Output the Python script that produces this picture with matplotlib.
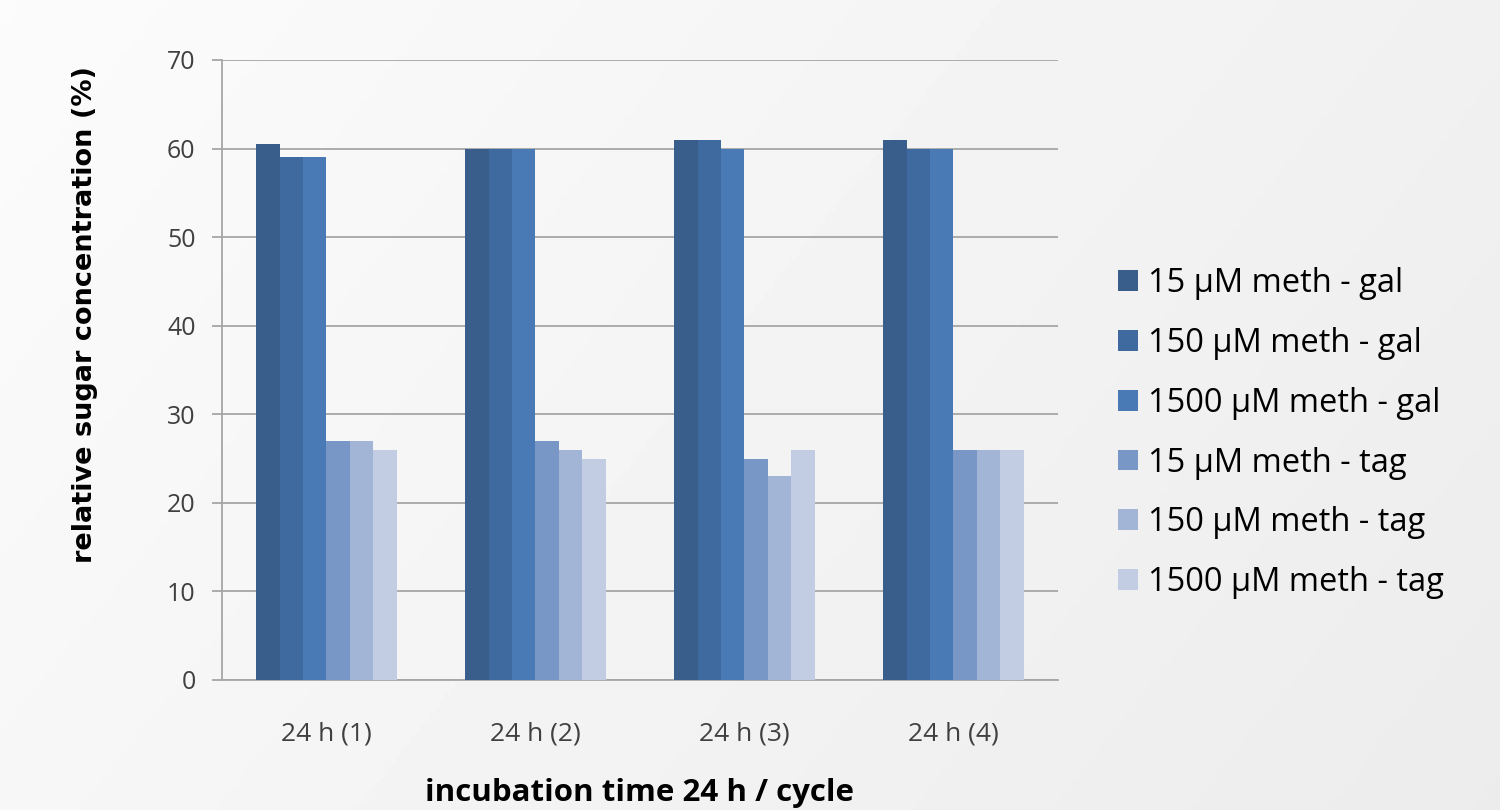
import numpy as np
import matplotlib.pyplot as plt

cycles = ["24 h (1)", "24 h (2)", "24 h (3)", "24 h (4)"]
series = [
    "15 \u00b5M meth - gal",
    "150 \u00b5M meth - gal",
    "1500 \u00b5M meth - gal",
    "15 \u00b5M meth - tag",
    "150 \u00b5M meth - tag",
    "1500 \u00b5M meth - tag",
]
gal_15 = [60.5, 60, 61, 61]
gal_150 = [59, 60, 61, 60]
gal_1500 = [59, 60, 60, 60]
tag_15 = [27, 27, 25, 26]
tag_150 = [27, 26, 23, 26]
tag_1500 = [26, 25, 26, 26]
values = [gal_15, gal_150, gal_1500, tag_15, tag_150, tag_1500]
colors = ["#3A5E8C", "#3F6A9F", "#4A7AB5", "#7896C6", "#A3B5D6", "#C2CDE3"]

fig = plt.figure(figsize=(15, 8.1), dpi=100)

# soft diagonal grey backdrop
bg = fig.add_axes([0, 0, 1, 1], zorder=-10)
yy, xx = np.mgrid[0:1:200j, 0:1:300j]
shade = 0.985 - 0.06 * (0.7 * xx + 0.3 * yy)
bg.imshow(shade, cmap="gray", vmin=0, vmax=1, aspect="auto",
          extent=[0, 1, 0, 1], origin="upper")
bg.axis("off")

ax = fig.add_axes([0.148, 0.1605, 0.5573, 0.7655])
ax.set_facecolor("none")

x = np.arange(len(cycles))
w = 0.112
for i, (vals, c, lab) in enumerate(zip(values, colors, series)):
    ax.bar(x + (i - 2.5) * w, vals, width=w, color=c, label=lab, zorder=3)

ax.set_xlim(-0.5, len(cycles) - 0.5)
ax.set_ylim(0, 70)
ax.set_yticks(range(0, 71, 10))
ax.yaxis.grid(True, color="#A6A6A6", lw=1.3, zorder=0)
ax.set_axisbelow(True)

for s in ["top", "right"]:
    ax.spines[s].set_visible(False)
for s in ["left", "bottom"]:
    ax.spines[s].set_color("#A6A6A6")
    ax.spines[s].set_linewidth(1.3)

ax.set_xticks(x)
ax.set_xticklabels(cycles)
ax.tick_params(axis="x", length=0, pad=30, labelsize=19, labelcolor="#404040")
ax.tick_params(axis="y", length=7, color="#A6A6A6", width=1.3, pad=12,
               labelsize=18, labelcolor="#404040")
for t in ax.get_xticklabels() + ax.get_yticklabels():
    t.set_family("Open Sans")

ax.set_ylabel("relative sugar concentration (%)", fontsize=19.5,
              fontweight="bold", family="DejaVu Sans", va="center")
ax.yaxis.set_label_coords(-0.164, 0.589)
ax.set_xlabel("incubation time 24 h / cycle", fontsize=22.5,
              fontweight="bold", family="Open Sans", va="center")
ax.xaxis.set_label_coords(0.5, -0.182)

leg = ax.legend(loc="center left", bbox_to_anchor=(1.037, 0.398), frameon=False,
                prop={"family": "Open Sans", "size": 23.5},
                handlelength=0.6, handleheight=0.6, handletextpad=0.3,
                labelspacing=0.82)

fig.savefig("out.png", dpi=100)
